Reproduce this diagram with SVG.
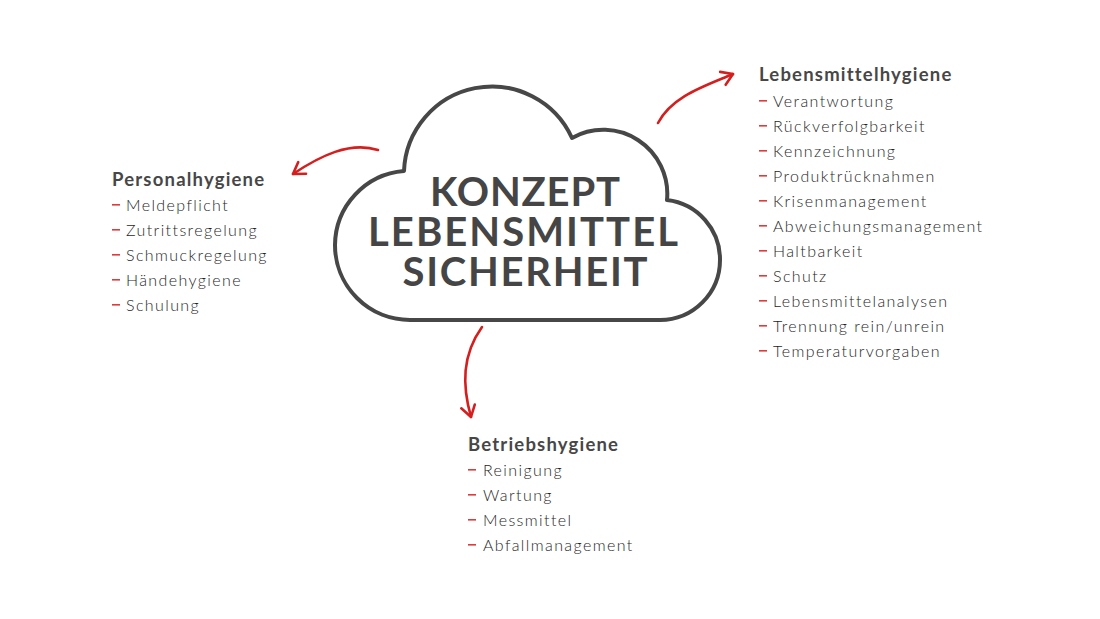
<svg xmlns="http://www.w3.org/2000/svg" width="1100" height="619" viewBox="0 0 1100 619">
<defs>
<style>
.cloud{fill:none;stroke:#474747;stroke-width:4;stroke-linejoin:round}
.title{font-family:"Lato","Liberation Sans",sans-serif;font-weight:bold;font-size:40px;fill:#454545;text-anchor:middle}
.head{font-family:"Lato","Liberation Sans",sans-serif;font-weight:bold;font-size:18.5px;letter-spacing:1.2px;fill:#474747}
.item{font-family:"Lato","Liberation Sans",sans-serif;font-weight:300;font-size:16px;letter-spacing:1.4px;fill:#1f1f1f}
.dash{fill:#e03a3a}
.arrow{fill:none;stroke:#d41f1f;stroke-width:2.6;stroke-linecap:round}
</style>
<marker id="head" markerUnits="userSpaceOnUse" markerWidth="16" markerHeight="20" viewBox="-13 -10 16 20" refX="0" refY="0" orient="auto">
<path d="M-11,-7 L0,0 L-11,7" fill="none" stroke="#d41f1f" stroke-width="2.6" stroke-linecap="round" stroke-linejoin="round"/>
</marker>
</defs>
<rect width="1100" height="619" fill="#ffffff"/>
<g id="cloud">
<path class="cloud" d="M410,320 A75,75 0 0 1 335,245 A75,75 0 0 1 404,171 A88,88 0 0 1 572,138 A64,64 0 0 1 667,200 A60,60 0 0 1 720,260 A60,60 0 0 1 660,320 Z"/>
<text class="title" x="525" y="206" textLength="190" lengthAdjust="spacing">KONZEPT</text>
<text class="title" x="523" y="246" textLength="310" lengthAdjust="spacing">LEBENSMITTEL</text>
<text class="title" x="525" y="286" textLength="245" lengthAdjust="spacing">SICHERHEIT</text>
</g>
<g id="connectors">
<path class="arrow" d="M378,150 C350,141 320,156 293,174" marker-end="url(#head)"/>
<path class="arrow" d="M658,123 C672,96 705,86 733,74" marker-end="url(#head)"/>
<path class="arrow" d="M482,327 C462,355 462,385 471,417" marker-end="url(#head)"/>
</g>
<g id="personalhygiene">
<text class="head" x="112" y="186">Personalhygiene</text>
<rect class="dash" x="112" y="204" width="8" height="1.6"/><text class="item" x="126" y="211">Meldepflicht</text>
<rect class="dash" x="112" y="229" width="8" height="1.6"/><text class="item" x="126" y="236">Zutrittsregelung</text>
<rect class="dash" x="112" y="254" width="8" height="1.6"/><text class="item" x="126" y="261">Schmuckregelung</text>
<rect class="dash" x="112" y="279" width="8" height="1.6"/><text class="item" x="126" y="286">Händehygiene</text>
<rect class="dash" x="112" y="304" width="8" height="1.6"/><text class="item" x="126" y="311">Schulung</text>
</g>
<g id="lebensmittelhygiene">
<text class="head" x="759" y="81">Lebensmittelhygiene</text>
<rect class="dash" x="759" y="100" width="8" height="1.6"/><text class="item" x="773" y="107">Verantwortung</text>
<rect class="dash" x="759" y="125" width="8" height="1.6"/><text class="item" x="773" y="132">Rückverfolgbarkeit</text>
<rect class="dash" x="759" y="150" width="8" height="1.6"/><text class="item" x="773" y="157">Kennzeichnung</text>
<rect class="dash" x="759" y="175" width="8" height="1.6"/><text class="item" x="773" y="182">Produktrücknahmen</text>
<rect class="dash" x="759" y="200" width="8" height="1.6"/><text class="item" x="773" y="207">Krisenmanagement</text>
<rect class="dash" x="759" y="225" width="8" height="1.6"/><text class="item" x="773" y="232">Abweichungsmanagement</text>
<rect class="dash" x="759" y="250" width="8" height="1.6"/><text class="item" x="773" y="257">Haltbarkeit</text>
<rect class="dash" x="759" y="275" width="8" height="1.6"/><text class="item" x="773" y="282">Schutz</text>
<rect class="dash" x="759" y="300" width="8" height="1.6"/><text class="item" x="773" y="307">Lebensmittelanalysen</text>
<rect class="dash" x="759" y="325" width="8" height="1.6"/><text class="item" x="773" y="332">Trennung rein/unrein</text>
<rect class="dash" x="759" y="350" width="8" height="1.6"/><text class="item" x="773" y="357">Temperaturvorgaben</text>
</g>
<g id="betriebshygiene">
<text class="head" x="468" y="451">Betriebshygiene</text>
<rect class="dash" x="468" y="469" width="8" height="1.6"/><text class="item" x="483" y="476">Reinigung</text>
<rect class="dash" x="468" y="494" width="8" height="1.6"/><text class="item" x="483" y="501">Wartung</text>
<rect class="dash" x="468" y="519" width="8" height="1.6"/><text class="item" x="483" y="526">Messmittel</text>
<rect class="dash" x="468" y="544" width="8" height="1.6"/><text class="item" x="483" y="551">Abfallmanagement</text>
</g>
</svg>
